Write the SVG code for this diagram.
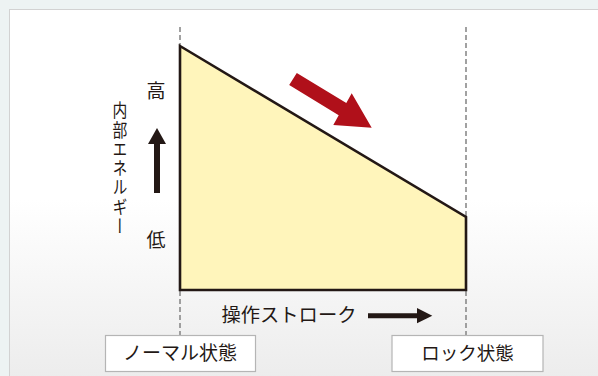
<svg xmlns="http://www.w3.org/2000/svg" width="598" height="376" viewBox="0 0 598 376">
<defs>
<linearGradient id="panelGrad" x1="0" y1="0" x2="0" y2="1">
<stop offset="0" stop-color="#ffffff"/>
<stop offset="0.5" stop-color="#ffffff"/>
<stop offset="1" stop-color="#ebebeb"/>
</linearGradient>
<style>
.t{font-family:"Noto Sans CJK JP","Noto Sans",sans-serif;fill:#231815;}
.dash{stroke:#8a8a8a;stroke-width:1.6;stroke-dasharray:5 3;fill:none;}
.box{fill:#ffffff;stroke:#b5b5b5;stroke-width:1.2;}
.blk{fill:#231815;}
</style>
</defs>
<rect x="0" y="0" width="598" height="376" fill="#edf3f3"/>
<rect x="9.5" y="9.5" width="600" height="380" fill="url(#panelGrad)" stroke="#d2d2d2" stroke-width="1"/>
<g id="guides">
<line class="dash" x1="180" y1="27" x2="180" y2="335"/>
<line class="dash" x1="466" y1="27" x2="466" y2="335"/>
</g>
<g id="energy-area">
<polygon points="180,46 466,217 466,290 180,290" fill="#fff5bb" stroke="#231815" stroke-width="2.6" stroke-linejoin="miter"/>
</g>
<g id="red-arrow">
<polygon points="289.2,85.1 296.8,72.9 346.3,103.1 351.7,93.3 371.7,127.7 333.3,125 338.7,115.3" fill="#b0101a"/>
</g>
<g id="y-axis">
<text class="t" x="156" y="98" font-size="19" text-anchor="middle">高</text>
<text class="t" x="156" y="247" font-size="19" text-anchor="middle">低</text>
<g transform="translate(120,0) scale(0.8,1) translate(-120,0)">
<text class="t" x="120" y="101" font-size="18.5" style="writing-mode:vertical-rl;letter-spacing:0.8px">内部エネルギー</text>
</g>
</g>
<g id="connectors">
<polygon class="blk" points="157,128 166,144 160,144 160,193 154,193 154,144 148,144"/>
<polygon class="blk" points="368,313.3 417,313.3 417,308 432.3,315.7 417,323.3 417,318.3 368,318.3"/>
</g>
<g id="x-axis">
<text class="t" x="221.5" y="322" font-size="19.3">操作ストローク</text>
</g>
<g id="normal-state">
<rect class="box" x="105.5" y="335.5" width="150" height="36"/>
<text class="t" x="180" y="360" font-size="19" text-anchor="middle">ノーマル状態</text>
</g>
<g id="lock-state">
<rect class="box" x="392" y="335.5" width="151" height="36"/>
<text class="t" x="467.5" y="360" font-size="18.5" text-anchor="middle">ロック状態</text>
</g>
</svg>
